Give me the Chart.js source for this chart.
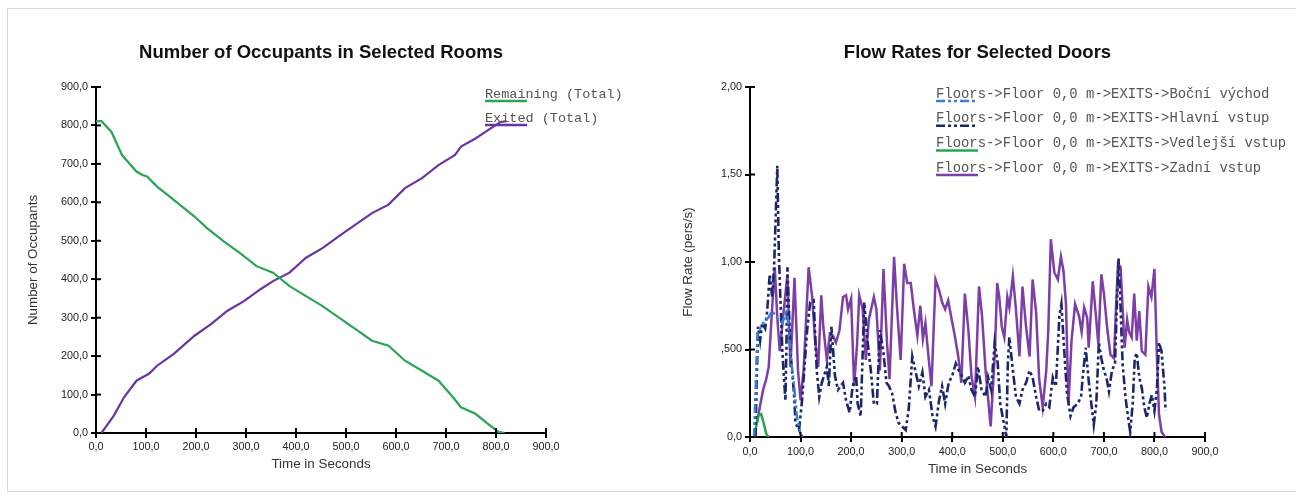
<!DOCTYPE html>
<html><head><meta charset="utf-8">
<script src="https://cdn.jsdelivr.net/npm/chart.js@4.4.0/dist/chart.umd.min.js"></script>
<style>
html,body{margin:0;padding:0;background:#fff;}
body{width:1296px;height:497px;position:relative;overflow:hidden;}
#frame{position:absolute;left:7px;top:8px;width:1300px;height:482px;border-top:1px solid #d9d9d9;border-left:1px solid #d9d9d9;border-bottom:1px solid #d9d9d9;}
#w1{position:absolute;left:0;top:0;width:645px;height:497px;}
#w2{position:absolute;left:650px;top:0;width:646px;height:497px;}
</style></head>
<body>
<div id="frame"></div>
<div id="w1"><canvas id="c1" width="645" height="497"></canvas></div>
<div id="w2"><canvas id="c2" width="646" height="497"></canvas></div>
<script>
// ---------- DATA (left chart) ----------
const leftTitle = 'Number of Occupants in Selected Rooms';
const remainingT = [0,11,31,52,81,93,102,122,155,197,222,255,288,321,354,387,420,453,486,519,552,585,618,652,685,714,730,759,784,805,817];
const remainingV = [811,811,783,723,680,671,667,641,607,563,533,499,468,434,417,382,356,330,300,270,240,227,188,162,136,93,67,50,24,3,0];
const exitedT = [11,36,56,81,93,106,122,155,197,230,263,296,329,354,387,420,453,486,519,552,585,618,652,685,718,730,759,784,809,821];
const exitedV = [0,46,93,136,145,154,175,205,253,283,318,343,374,395,417,456,481,512,542,572,594,637,663,697,723,745,766,788,809,811];
const leftXTickLabels = ['0,0','100,0','200,0','300,0','400,0','500,0','600,0','700,0','800,0','900,0'];
const leftYTickLabels = ['0,0','100,0','200,0','300,0','400,0','500,0','600,0','700,0','800,0','900,0'];

// ---------- DATA (right chart) ----------
const rightTitle = 'Flow Rates for Selected Doors';
const bocniT = [8,12,15,20,28,36,44,54,64,73,78,82,87,93,100,104];
const bocniV = [0,0.35,0.6,0.62,0.66,0.68,0.72,0.68,0.65,0.73,0.55,0.42,0.3,0.11,0.02,0];
const hlavniT = [11,13,16,20,24,30,34,39,44,48,
  54,57,60,64,70,72,74,80,87,90,
  97,103,113,119,126,132,137,142,152,156,
  161,168,174,184,190,197,203,210,213,219,
  226,232,239,245,251,257,264,270,275,281,
  288,294,301,308,314,321,327,334,341,347,
  354,361,367,374,380,386,393,400,407,413,
  419,425,432,438,445,451,458,466,471,477,
  484,490,495,502,507,510,513,520,526,533,
  539,546,553,559,566,572,579,586,592,599,
  605,612,616,621,627,634,640,648,655,658,
  664,670,676,680,685,690,695,700,705,710,
  716,722,726,729,733,737,743,748,752,757,
  761,765,770,775,780,785,790,795,800,805,
  809,814,820,822];
const hlavniV = [0,0.3,0.63,0.55,0.65,0.62,0.72,0.93,0.8,1.0,
  1.55,1.06,0.8,0.49,0.21,0.5,0.97,0.49,0.25,0.08,
  0.04,0.21,0.61,0.77,0.78,0.38,0.23,0.31,0.4,0.29,
  0.63,0.35,0.27,0.31,0.21,0.14,0.29,0.35,0.19,0.12,
  0.77,0.56,0.38,0.19,0.19,0.61,0.48,0.31,0.29,0.25,
  0.14,0.08,0.06,0.04,0.16,0.46,0.38,0.29,0.37,0.23,
  0.27,0.12,0.06,0.21,0.29,0.19,0.31,0.35,0.42,0.38,
  0.35,0.31,0.35,0.27,0.23,0.4,0.27,0.23,0.34,0.27,
  0.54,0.42,0.19,0.08,0,0.42,0.57,0.38,0.23,0.19,
  0.27,0.31,0.38,0.34,0.23,0.15,0.15,0.19,0.17,0.34,
  0.29,0.69,0.76,0.52,0.25,0.12,0.17,0.19,0.23,0.34,
  0.51,0.32,0.17,0.07,0.19,0.54,0.45,0.38,0.34,0.26,
  0.38,0.42,0.78,1.02,0.74,0.42,0.22,0.11,0.03,0.19,
  0.45,0.48,0.34,0.28,0.17,0.11,0.19,0.24,0.15,0.28,
  0.54,0.49,0.28,0.15];
const vedlejsiT = [10,13,16,22,27,32,36];
const vedlejsiV = [0,0.08,0.12,0.13,0.08,0.02,0];
const zadniT = [14,20,26,32,37,43,49,54,59,66,
  74,80,88,95,100,106,116,123,129,135,
  141,145,152,158,164,170,177,184,190,194,
  200,206,212,216,223,229,235,245,250,257,
  264,271,276,285,291,298,305,311,318,324,
  331,337,342,347,353,359,367,374,380,386,
  392,399,405,412,418,425,432,438,445,453,
  459,466,476,484,489,493,498,503,509,513,
  520,526,533,539,546,553,559,566,572,579,
  586,590,595,602,609,615,620,625,630,636,
  643,651,656,661,667,670,678,684,689,695,
  700,707,713,720,724,728,733,736,741,746,
  750,755,760,765,770,775,782,788,794,800,
  805,809,814,821];
const zadniV = [0.08,0.18,0.27,0.33,0.4,0.7,0.97,0.68,0.49,0.7,
  0.93,0.4,0.91,0.38,0.21,0.38,0.97,0.8,0.54,0.4,
  0.81,0.63,0.44,0.59,0.58,0.54,0.61,0.8,0.81,0.73,
  0.79,0.29,0.54,0.81,0.73,0.44,0.67,0.8,0.73,0.38,
  0.96,0.54,0.33,1.03,0.73,0.44,0.99,0.88,0.88,0.73,
  0.58,0.75,0.56,0.65,0.46,0.29,0.9,0.84,0.77,0.73,
  0.78,0.67,0.58,0.46,0.31,0.82,0.61,0.35,0.23,0.86,
  0.69,0.38,0.06,0.46,0.88,0.8,0.63,0.57,0.8,0.74,
  0.92,0.73,0.46,0.86,0.63,0.46,0.9,0.71,0.33,0.17,
  0.38,0.61,1.13,0.94,0.9,1.03,0.95,0.76,0.19,0.55,
  0.76,0.69,0.6,0.74,0.68,0.51,0.89,0.7,0.53,0.93,
  0.82,0.61,0.47,0.45,0.74,0.99,0.97,0.8,0.51,0.67,
  0.6,0.57,0.82,0.55,0.72,0.49,0.47,0.86,0.8,0.96,
  0.45,0.13,0.03,0];
const rightXTickLabels = ['0,0','100,0','200,0','300,0','400,0','500,0','600,0','700,0','800,0','900,0'];
const rightYTickLabels = ['0,0',',500','1,00','1,50','2,00'];

const pts = (t, v) => t.map((x, i) => ({x: x, y: v[i]}));

// ---------- plugins ----------
const crossTicks = {
  id: 'crossTicks',
  afterDraw(chart, args, opts) {
    const ctx = chart.ctx, a = chart.chartArea;
    const xs = chart.scales.x, ys = chart.scales.y;
    ctx.save();
    ctx.strokeStyle = '#000'; ctx.lineWidth = 2;
    xs.ticks.forEach(t => {
      const p = xs.getPixelForValue(t.value);
      ctx.beginPath(); ctx.moveTo(p, a.bottom); ctx.lineTo(p, a.bottom - opts.len); ctx.stroke();
    });
    ys.ticks.forEach(t => {
      const p = ys.getPixelForValue(t.value);
      ctx.beginPath(); ctx.moveTo(a.left, p); ctx.lineTo(a.left + opts.len, p); ctx.stroke();
    });
    ctx.restore();
  }
};
const centerTitle = {
  id: 'centerTitle',
  afterDraw(chart, args, opts) {
    const ctx = chart.ctx, a = chart.chartArea;
    ctx.save();
    ctx.font = opts.font; ctx.fillStyle = opts.color;
    ctx.textAlign = 'center'; ctx.textBaseline = 'middle';
    ctx.fillText(opts.text, (a.left + a.right) / 2, opts.y);
    ctx.restore();
  }
};
const lineLegend = {
  id: 'lineLegend',
  afterDraw(chart, args, opts) {
    const ctx = chart.ctx;
    ctx.save();
    ctx.font = opts.font;
    ctx.textBaseline = 'middle';
    chart.data.datasets.forEach((ds, i) => {
      const y = opts.y + i * opts.dy;
      ctx.fillStyle = opts.color;
      ctx.fillText(ds.label, opts.x, y);
      ctx.strokeStyle = ds.borderColor;
      ctx.lineWidth = 2.5;
      ctx.setLineDash(ds.borderDash || []);
      ctx.beginPath(); ctx.moveTo(opts.x, y + 7); ctx.lineTo(opts.x + opts.len, y + 7); ctx.stroke();
    });
    ctx.restore();
  }
};

const tickFont = {family: '"Liberation Sans", Arial, sans-serif', size: 10.8};
const axisTitleFont = {family: '"Liberation Sans", Arial, sans-serif', size: 13.4};
const titleFontCss = 'bold 18.5px "Liberation Sans", Arial, sans-serif';

function makeScales(xLabels, yLabels, yMax, yStep, yWidth, xHeight, yTitle, xTitleBottom, xTickPad, yTitlePad) {
  return {
    x: {
      type: 'linear', min: 0, max: 900,
      ticks: {stepSize: 100, font: tickFont, color: '#222', padding: xTickPad, maxRotation: 0, autoSkip: false,
              callback: (v, i) => xLabels[i]},
      grid: {display: true, drawOnChartArea: false, drawTicks: true, tickLength: 5, color: '#000', lineWidth: 2},
      border: {display: true, color: '#000', width: 2},
      title: {display: true, text: 'Time in Seconds', font: axisTitleFont, color: '#333', padding: {top: 0, bottom: xTitleBottom}},
      afterFit: s => { s.height = xHeight; }
    },
    y: {
      type: 'linear', min: 0, max: yMax,
      ticks: {stepSize: yStep, font: tickFont, color: '#222', padding: 3, autoSkip: false,
              callback: (v, i) => yLabels[i]},
      grid: {display: true, drawOnChartArea: false, drawTicks: true, tickLength: 5, color: '#000', lineWidth: 2},
      border: {display: true, color: '#000', width: 2},
      title: {display: true, text: yTitle, font: axisTitleFont, color: '#333', padding: {top: yTitlePad, bottom: yTitlePad}},
      afterFit: s => { s.width = yWidth; }
    }
  };
}

const common = (title) => ({
  responsive: false, animation: false,
  elements: {point: {radius: 0}, line: {tension: 0}},
  plugins: {
    legend: {display: false}, tooltip: {enabled: false}, title: {display: false},
    centerTitle: {text: title, y: 53, font: titleFontCss, color: '#111'}
  }
});

// ---------- left chart ----------
const opt1 = common(leftTitle);
opt1.layout = {padding: {left: 0, right: 99, top: 87, bottom: 0}};
opt1.scales = makeScales(leftXTickLabels, leftYTickLabels, 900, 100, 96, 64, 'Number of Occupants', 25, 3, 25);
opt1.plugins.crossTicks = {len: 5};
opt1.plugins.lineLegend = {x: 485, y: 94, dy: 24, len: 42, color: '#555', font: '13.5px "Liberation Mono", "Courier New", monospace'};
new Chart(document.getElementById('c1'), {
  type: 'line',
  data: {datasets: [
    {label: 'Remaining (Total)', data: pts(remainingT, remainingV), borderColor: '#2aa653', borderWidth: 2.2, fill: false},
    {label: 'Exited (Total)', data: pts(exitedT, exitedV), borderColor: '#6b34a3', borderWidth: 2.2, fill: false}
  ]},
  options: opt1,
  plugins: [crossTicks, lineLegend, centerTitle]
});

// ---------- right chart ----------
const opt2 = common(rightTitle);
opt2.layout = {padding: {left: 0, right: 91, top: 87, bottom: 0}};
opt2.scales = makeScales(rightXTickLabels, rightYTickLabels, 2, 0.5, 100, 60, 'Flow Rate (pers/s)', 20, 4, 30);
opt2.plugins.crossTicks = {len: 5};
opt2.plugins.lineLegend = {x: 286, y: 94, dy: 24.7, len: 42, color: '#555', font: '13.9px "Liberation Mono", "Courier New", monospace'};
new Chart(document.getElementById('c2'), {
  type: 'line',
  data: {datasets: [
    {label: 'Floors->Floor 0,0 m->EXITS->Boční východ', data: pts(bocniT, bocniV), borderColor: '#3a7fd0', borderWidth: 2.5, borderDash: [9,3,3,3,3,3], fill: false},
    {label: 'Floors->Floor 0,0 m->EXITS->Hlavní vstup', data: pts(hlavniT, hlavniV), borderColor: '#1c276b', borderWidth: 2.6, borderDash: [9,3,3,3,3,3], fill: false},
    {label: 'Floors->Floor 0,0 m->EXITS->Vedlejší vstup', data: pts(vedlejsiT, vedlejsiV), borderColor: '#26a650', borderWidth: 2.5, fill: false},
    {label: 'Floors->Floor 0,0 m->EXITS->Zadní vstup', data: pts(zadniT, zadniV), borderColor: '#7d3ea8', borderWidth: 2.5, fill: false}
  ]},
  options: opt2,
  plugins: [crossTicks, lineLegend, centerTitle]
});
</script>
</body></html>
